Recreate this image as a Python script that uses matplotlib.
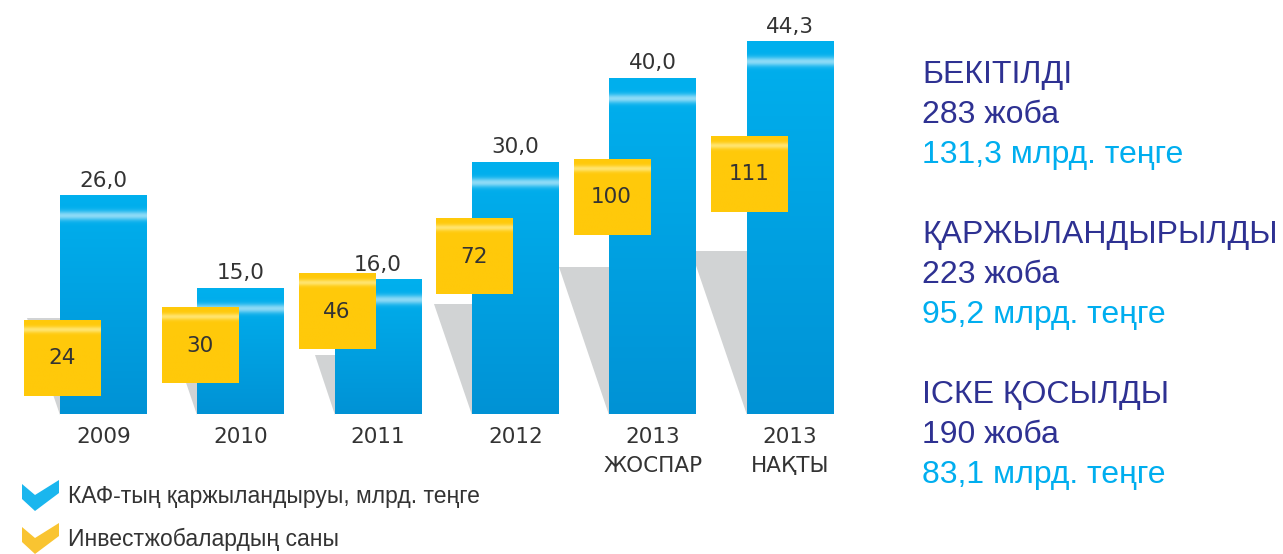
import numpy as np
import matplotlib
matplotlib.use("Agg")
import matplotlib.pyplot as plt
from matplotlib.patches import Polygon
from matplotlib.colors import to_rgb

# data
years = ["2009", "2010", "2011", "2012", "2013\nЖОСПАР", "2013\nНАҚТЫ"]
funding = [26.0, 15.0, 16.0, 30.0, 40.0, 44.3]     # млрд. теңге
projects = [24, 30, 46, 72, 100, 111]               # number of investment projects

summary_titles = ["БЕКІТІЛДІ", "ҚАРЖЫЛАНДЫРЫЛДЫ", "ІСКЕ ҚОСЫЛДЫ"]
summary_projects = ["283 жоба", "223 жоба", "190 жоба"]
summary_money = ["131,3 млрд. теңге", "95,2 млрд. теңге", "83,1 млрд. теңге"]

legend_labels = ["КАФ-тың қаржыландыруы, млрд. теңге", "Инвестжобалардың саны"]

# colours
BLUE_TOP = to_rgb("#00b0ee")
BLUE_BOT = to_rgb("#0092d5")
YELLOW = to_rgb("#ffc90a")
GREY = "#d1d3d4"
NAVY = "#2e3192"
CYAN = "#00aeef"
TXT = "#333333"

W, H = 1283, 554
fig = plt.figure(figsize=(W / 100, H / 100), dpi=100)

# main axes: 137.3 px per bar step, 8.4 px per unit
ax = fig.add_axes([0.5 / W, (H - 414.5) / H, 858.2 / W, 403.2 / H])
ax2 = ax.twinx()
x = np.arange(len(years))
bw = 0.633
px_per_unit = 8.4
px_per_x = 137.3


def bar_gradient(hpx, stripe=20):
    n = max(int(hpx), 2)
    d = np.arange(n)
    t = (d / n)[:, None]
    col = np.array(BLUE_TOP) * (1 - t) + np.array(BLUE_BOT) * t
    w = 0.55 * np.exp(-((d - stripe) / 4.5) ** 2)[:, None]
    col = col * (1 - w) + w
    return col[:, None, :]


def square_gradient(n=75, stripe=9):
    d = np.arange(n)
    col = np.tile(np.array(YELLOW), (n, 1))
    w = 0.55 * np.exp(-((d - stripe) / 3.0) ** 2)[:, None]
    col = col * (1 - w) + w * np.array([1.0, 0.98, 0.75])
    return col[:, None, :]


for xi, v in zip(x, funding):
    left = xi - bw / 2
    # grey shadow behind bar
    h = 0.44 * v
    dx = 0.34 * h * px_per_unit / px_per_x
    ax.add_patch(Polygon([(left - dx, h), (left, h), (left, 0)], closed=True,
                         facecolor=GREY, edgecolor="none", zorder=1))
    ax.imshow(bar_gradient(v * px_per_unit), extent=[left, left + bw, 0, v],
              aspect="auto", origin="upper", zorder=2, interpolation="bilinear")
    ax.annotate(f"{v:.1f}".replace(".", ","), (xi, v), xytext=(0, 4),
                textcoords="offset points", ha="center", va="bottom",
                fontsize=15.5, color=TXT, family="DejaVu Sans")

ax.set_xlim(-0.75, 5.5)
ax.set_ylim(0, 48)
ax.set_xticks(x)
ax.set_xticklabels(years, fontsize=15.5, color=TXT, linespacing=1.55,
                   family=["DejaVu Sans"])
ax.tick_params(axis="x", length=0, pad=9)
ax.set_yticks([])
for s in ax.spines.values():
    s.set_visible(False)

# yellow squares for project counts
sq_w = 76 / px_per_x
sq_h = 35.5
for xi, c in zip(x, projects):
    cx = xi - 0.30
    ax2.imshow(square_gradient(), extent=[cx - sq_w / 2, cx + sq_w / 2, c - sq_h / 2, c + sq_h / 2],
               aspect="auto", origin="upper", zorder=3, interpolation="bilinear")
    ax2.text(cx, c, str(c), ha="center", va="center", fontsize=15.5,
             color=TXT, family="DejaVu Sans", zorder=4)
ax2.set_xlim(-0.75, 5.5)
ax2.set_ylim(-2.5, 187.9)
ax2.set_yticks([])
for s in ax2.spines.values():
    s.set_visible(False)

# right-hand summary
fam = ["Liberation Sans", "DejaVu Sans"]
for i, (t, p, m) in enumerate(zip(summary_titles, summary_projects, summary_money)):
    base = 83 + 160 * i
    fig.text(922 / W, 1 - base / H, t, color=NAVY, fontsize=23, family=fam, va="baseline")
    fig.text(922 / W, 1 - (base + 40) / H, p, color=NAVY, fontsize=23, family=fam, va="baseline")
    fig.text(922 / W, 1 - (base + 80) / H, m, color=CYAN, fontsize=23, family=fam, va="baseline")

# legend with chevron icons
def chevron(y0, color):
    pts = [(22, y0), (35, y0 + 11), (59, y0 - 4), (59, y0 + 9), (35, y0 + 27), (22, y0 + 15)]
    pts = [(px / W, 1 - py / H) for px, py in pts]
    fig.add_artist(Polygon(pts, closed=True, facecolor=color, edgecolor="none",
                           transform=fig.transFigure))


chevron(484, "#1ab6ee")
chevron(527, "#f9c431")
fig.text(68 / W, 1 - 497 / H, legend_labels[0], color=TXT, fontsize=16.5, family=fam, va="center")
fig.text(68 / W, 1 - 539 / H, legend_labels[1], color=TXT, fontsize=16.5, family=fam, va="center")

fig.savefig("out.png", dpi=100)
